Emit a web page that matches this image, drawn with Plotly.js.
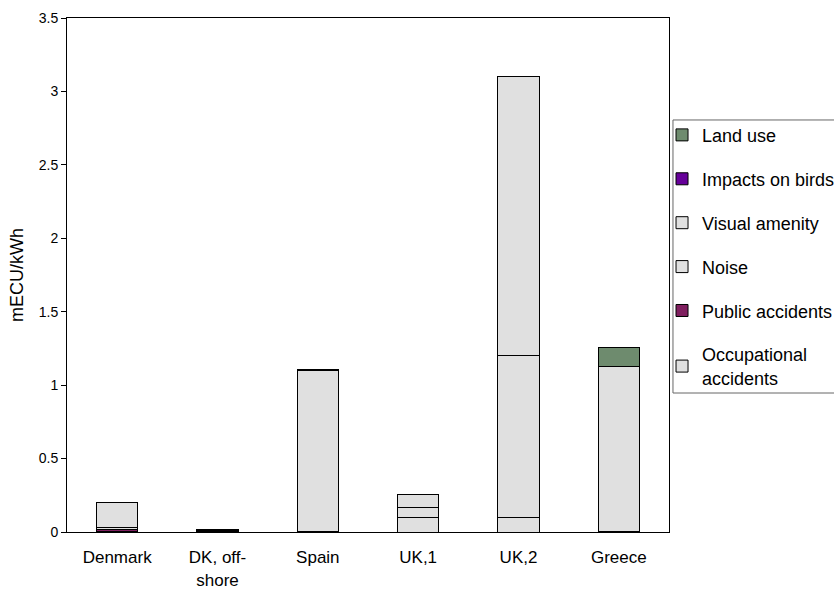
<!DOCTYPE html>
<html>
<head>
<meta charset="utf-8">
<script src="https://cdn.plot.ly/plotly-3.0.1.min.js"></script>
<style>html,body{margin:0;padding:0;background:#fff;}#chart{width:834px;height:590px;}</style>
</head>
<body>
<div id="chart"></div>
<script>
// Categories (x axis)
var categories = ["Denmark", "DK, off-<br>shore", "Spain", "UK,1", "UK,2", "Greece"];

// Series values (mECU/kWh), stacked bottom to top
var occupationalAccidents = [0.005, 0.004, 0.004, 0.100, 0.100, 0.005];
var publicAccidents       = [0.012, 0.004, 0.000, 0.000, 0.000, 0.000];
var noise                 = [0.017, 0.004, 1.093, 0.070, 1.100, 0.000];
var visualAmenity         = [0.168, 0.000, 0.000, 0.085, 1.900, 1.120];
var impactsOnBirds        = [0.000, 0.003, 0.008, 0.000, 0.000, 0.000];
var landUse               = [0.000, 0.000, 0.000, 0.000, 0.000, 0.130];

// Y-axis ticks
var yTicks = [0, 0.5, 1, 1.5, 2, 2.5, 3, 3.5];
var yTickLabels = ["0", "0.5", "1", "1.5", "2", "2.5", "3", "3.5"];

var seriesDefs = [
  {name: "Occupational<br>accidents", y: occupationalAccidents, color: "#e0e0e0"},
  {name: "Public accidents", y: publicAccidents, color: "#7f1f5f"},
  {name: "Noise", y: noise, color: "#e0e0e0"},
  {name: "Visual amenity", y: visualAmenity, color: "#e0e0e0"},
  {name: "Impacts on birds", y: impactsOnBirds, color: "#660099"},
  {name: "Land use", y: landUse, color: "#6e8b6e"}
];

var traces = seriesDefs.map(function (s, i) {
  return {
    type: "bar",
    name: s.name,
    x: categories,
    y: s.y,
    legendgroup: "g" + i,
    legendrank: 100 - i,
    marker: {color: s.color, line: {color: "#000", width: 1}},
    hoverinfo: "x+y+name"
  };
});

var layout = {
  width: 834,
  height: 590,
  barmode: "stack",
  bargap: 0.59,
  paper_bgcolor: "#fff",
  plot_bgcolor: "#fff",
  font: {family: "Liberation Sans, Arial, sans-serif", size: 17, color: "#000"},
  margin: {l: 67, r: 165, t: 18, b: 58, pad: 0, autoexpand: false},
  showlegend: true,
  legend: {
    x: 0.9884, xanchor: "left",
    y: 0.808, yanchor: "top",
    traceorder: "grouped",
    tracegroupgap: 17.5,
    borderwidth: 0,
    bgcolor: "rgba(0,0,0,0)",
    font: {family: "Liberation Sans, Arial, sans-serif", size: 18, color: "#000"},
    itemwidth: 30
  },
  shapes: [{
    type: "rect", xref: "paper", yref: "paper",
    x0: 1.0066, x1: 1.28, y0: 0.2704, y1: 0.8016,
    line: {color: "#666", width: 1}, fillcolor: "rgba(0,0,0,0)", layer: "below"
  }],
  xaxis: {
    type: "category",
    showline: true, linecolor: "#000", linewidth: 1,
    mirror: true,
    ticks: "", showgrid: false, zeroline: false,
    tickfont: {size: 17},
    ticklabelstandoff: 10,
    fixedrange: true
  },
  yaxis: {
    range: [0, 3.5],
    tickvals: yTicks,
    ticktext: yTickLabels,
    ticks: "outside", ticklen: 5, tickcolor: "#000",
    showline: true, linecolor: "#000", linewidth: 1,
    mirror: true,
    showgrid: false, zeroline: false,
    tickfont: {size: 14},
    title: {text: "mECU/kWh", font: {size: 18}, standoff: 10},
    fixedrange: true
  }
};

Plotly.newPlot("chart", traces, layout, {displayModeBar: false, staticPlot: true});
</script>
</body>
</html>
